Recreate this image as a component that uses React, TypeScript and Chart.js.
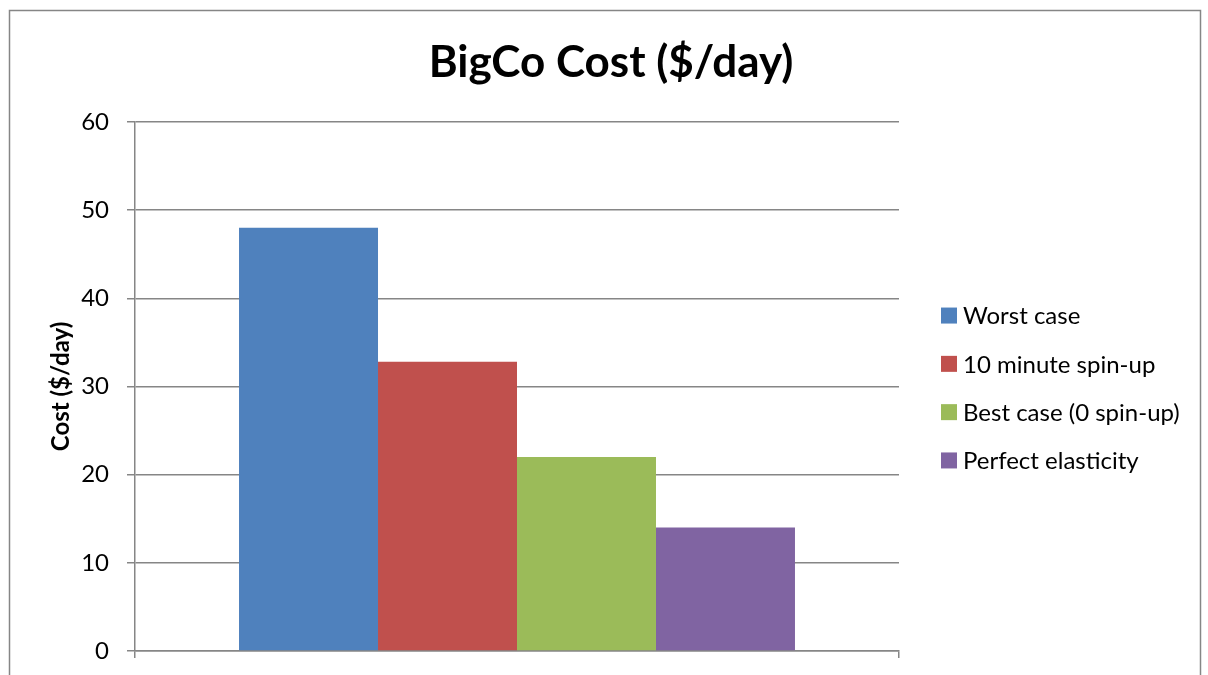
import React, { useEffect, useRef } from "react";
import { Chart, registerables } from "chart.js";

Chart.register(...registerables);

const categories: string[] = [""];
const seriesNames: string[] = ["Worst case", "10 minute spin-up", "Best case (0 spin-up)", "Perfect elasticity"];
const worstCase: number[] = [48];
const tenMinute: number[] = [32.8];
const bestCase: number[] = [22];
const perfect: number[] = [14];
const seriesColors: string[] = ["#4F81BD", "#C0504D", "#9BBB59", "#8064A2"];
const yTicks = { min: 0, max: 60, step: 10 };

const FONT = "Lato, 'Open Sans', sans-serif";
const GRID = "#868686";

const frameAndLegend = {
  id: "frameAndLegend",
  beforeDraw(chart: any) {
    const ctx = chart.ctx;
    ctx.save();
    ctx.fillStyle = "#ffffff";
    ctx.fillRect(0, 0, chart.width, chart.height);
    ctx.strokeStyle = GRID;
    ctx.lineWidth = 1.5;
    ctx.strokeRect(9.5, 10.5, 1191, 720);
    ctx.restore();
  },
  afterDraw(chart: any) {
    const ctx = chart.ctx;
    const ds = chart.data.datasets;
    const area = chart.chartArea;
    const rowH = 48.3;
    const cy = (area.top + area.bottom) / 2 + 1.5;
    const boxX = 941;
    const box = 16;
    ctx.save();
    ctx.font = `24px ${FONT}`;
    ctx.textBaseline = "middle";
    ctx.textAlign = "left";
    ds.forEach((d: any, i: number) => {
      const y = cy + (i - (ds.length - 1) / 2) * rowH;
      ctx.fillStyle = d.backgroundColor;
      ctx.fillRect(boxX, y - box / 2, box, box);
      ctx.fillStyle = "#000000";
      ctx.fillText(d.label, boxX + box + 6, y + 1);
    });
    ctx.restore();
  },
};

export default function App() {
  const ref = useRef<HTMLCanvasElement | null>(null);
  useEffect(() => {
    if (!ref.current) return;
    const seriesValues = [worstCase, tenMinute, bestCase, perfect];
    const chart = new Chart(ref.current, {
      type: "bar",
      data: {
        labels: categories,
        datasets: seriesNames.map((name, i) => ({
          label: name,
          data: seriesValues[i],
          backgroundColor: seriesColors[i],
          borderWidth: 0,
          categoryPercentage: 0.7277,
          barPercentage: 1.0,
        })),
      },
      options: {
        responsive: false,
        animation: false,
        devicePixelRatio: 1,
        layout: { padding: { left: 14, right: 0, top: 0, bottom: 0 } },
        plugins: {
          legend: { display: false },
          tooltip: { enabled: false },
          title: {
            display: true,
            text: "BigCo Cost ($/day)",
            color: "#000000",
            font: { family: FONT, size: 44, weight: "bold" },
            padding: { top: 36, bottom: 33.2 },
          },
        },
        scales: {
          x: {
            type: "category",
            grid: { display: true, offset: true, drawOnChartArea: false, drawTicks: true, tickLength: 7, color: GRID, lineWidth: 1.5 },
            border: { display: true, color: GRID, width: 1.5 },
            ticks: { display: false },
            afterFit: (s: any) => { s.height = 24; },
          },
          y: {
            type: "linear",
            position: "left",
            min: yTicks.min,
            max: yTicks.max,
            ticks: { stepSize: yTicks.step, color: "#000000", padding: 18, font: { family: FONT, size: 24 } },
            grid: { color: GRID, lineWidth: 1.5, tickLength: 8, drawTicks: true },
            border: { display: true, color: GRID, width: 1.5 },
            title: {
              display: true,
              text: "Cost ($/day)",
              color: "#000000",
              font: { family: FONT, size: 24, weight: "bold" },
              padding: { top: 33, bottom: 0 },
            },
            afterFit: (s: any) => {
              s.width = 121;
              s.paddingTop = 0;
              s.paddingBottom = 0;
            },
          },
          spacer: {
            type: "linear",
            position: "right",
            display: true,
            grid: { display: false, drawTicks: false },
            border: { display: false },
            ticks: { display: false },
            afterFit: (s: any) => {
              s.width = 309;
              s.paddingTop = 0;
              s.paddingBottom = 0;
            },
          },
        },
      },
      plugins: [frameAndLegend],
    } as any);
    return () => chart.destroy();
  }, []);
  return (
    <div style={{ position: "absolute", left: 0, top: 0, width: 1208, height: 675, overflow: "hidden" }}>
      <canvas ref={ref} width={1208} height={675} style={{ display: "block" }} />
    </div>
  );
}
